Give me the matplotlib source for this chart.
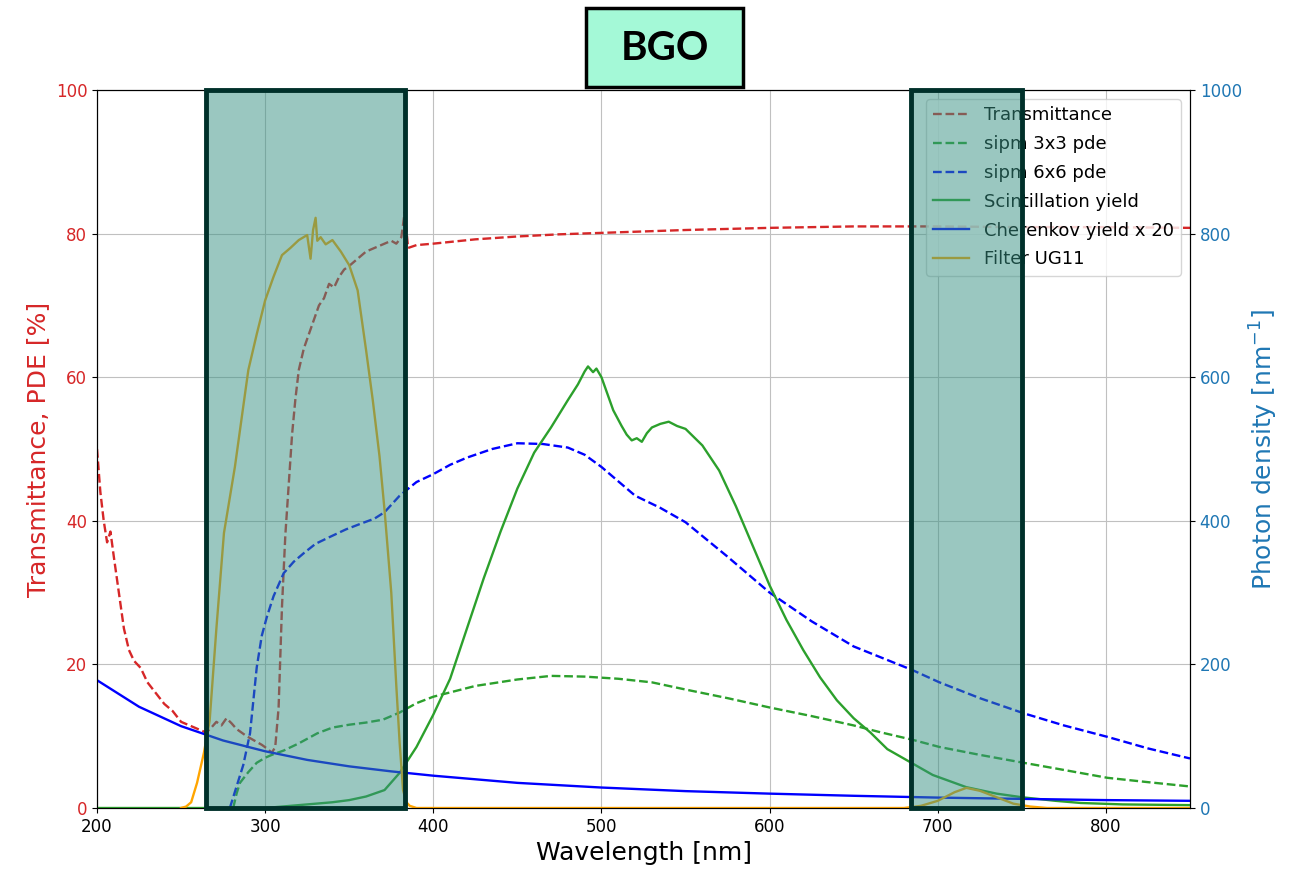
import matplotlib
matplotlib.use('Agg')

import matplotlib.pyplot as plt
from matplotlib.patches import Rectangle

# transmittance of BGO [%]
trans_wl = [200, 202, 204, 206, 208, 210, 213, 216, 219, 222, 226, 230, 235, 240, 245, 250,
            255, 260, 265, 268, 271, 274, 277, 280, 283, 286, 289, 292, 295, 298, 301, 304,
            306, 308, 310, 312, 314, 316, 318, 320, 323, 326, 329, 332, 335, 338, 341, 344,
            347, 350, 355, 360, 365, 370, 375, 378, 381, 383, 385, 390, 400, 425, 450, 475,
            500, 550, 600, 650, 700, 750, 800, 850]
trans = [50, 44, 40, 37, 38.5, 35, 30, 25, 22, 20.5, 19.5, 17.5, 16, 14.5, 13.5, 12,
         11.5, 11, 10.5, 11.2, 12, 11.5, 12.5, 11.8, 11, 10.5, 10, 9.6, 9.2, 8.8, 8.3, 7.7,
         8.5, 14, 28, 38, 45, 52, 57, 61, 64, 66, 68, 70, 71, 73, 72.5, 74,
         75, 75.5, 76.5, 77.5, 78, 78.5, 79, 78.6, 79.5, 83, 78, 78.4, 78.6, 79.2, 79.6, 79.9,
         80.1, 80.5, 80.8, 81, 81, 80.9, 80.9, 80.8]

# sipm pde [%]
pde3_wl = [281, 283, 285, 290, 295, 300, 305, 311, 320, 331, 340, 350, 360, 370, 380, 390,
           400, 425, 450, 470, 490, 510, 530, 550, 575, 600, 625, 650, 665, 685, 701, 725,
           751, 775, 801, 825, 850]
pde3 = [0, 2, 3.5, 5, 6.3, 7, 7.5, 8, 9, 10.4, 11.2, 11.6, 11.9, 12.3, 13.3, 14.6,
        15.5, 17, 17.9, 18.4, 18.3, 18, 17.5, 16.5, 15.3, 14, 12.8, 11.5, 10.6, 9.5, 8.5, 7.4,
        6.3, 5.3, 4.2, 3.6, 3.0]

pde6_wl = [279, 281, 283, 287, 291, 295, 298, 301, 305, 311, 317, 323, 330, 338, 348, 358,
           365, 371, 380, 390, 400, 410, 420, 435, 450, 465, 480, 490, 500, 510, 520, 535,
           550, 575, 600, 625, 650, 685, 701, 725, 751, 775, 801, 825, 850]
pde6 = [0, 1.5, 3, 6, 10.4, 19.6, 24, 26.6, 29.5, 32.7, 34.3, 35.5, 36.8, 37.7, 38.8, 39.7,
        40.3, 41.2, 43.5, 45.4, 46.5, 47.8, 48.8, 50, 50.8, 50.7, 50.2, 49.2, 47.5, 45.5, 43.5, 41.8,
        39.8, 35, 30, 26, 22.5, 19.2, 17.5, 15.3, 13.2, 11.5, 9.9, 8.3, 6.9]

# photon densities [nm^-1]
scint_wl = [200, 250, 300, 320, 340, 350, 360, 371, 380, 390, 400, 410, 420, 430, 440, 450,
            460, 470, 480, 486, 490, 492, 495, 497, 500, 507, 512, 515, 518, 521, 524, 527,
            530, 535, 540, 545, 550, 560, 570, 580, 590, 600, 610, 620, 630, 640, 650, 660,
            670, 685, 697, 717, 735, 750, 770, 785, 810, 850]
scint = [0, 0, 0, 4, 8, 11, 16, 25, 49, 85, 130, 180, 250, 320, 385, 445,
         495, 530, 568, 590, 608, 615, 607, 612, 600, 554, 532, 520, 512, 515, 510, 522,
         530, 535, 538, 532, 528, 505, 470, 420, 365, 310, 262, 220, 182, 150, 125, 105,
         82, 62, 46, 29, 20, 15, 10, 7, 5, 4]

cher_wl = [200, 225, 250, 275, 300, 325, 350, 375, 400, 450, 500, 550, 600, 650, 700, 750, 800, 850]
cher = [178, 141, 114, 94, 79, 67, 58, 51, 45, 35, 28.5, 23.5, 20, 17, 14.5, 12.7, 11, 10]

ug11_wl = [250, 253, 256, 259.5, 263.6, 267, 271, 275.5, 282, 287.5, 290, 295, 300, 305, 310,
           315, 320, 325, 327, 328.5, 330, 331, 333, 336, 340, 345, 350, 355, 360, 364, 368,
           371, 375, 378, 380, 382, 384, 386, 390, 400, 680, 690, 700, 710, 717, 725, 735,
           745, 755, 765, 850]
ug11 = [0, 2, 8, 35, 77, 122, 250, 383, 475, 568, 610, 660, 707, 740, 770,
        780, 791, 798, 765, 805, 822, 790, 795, 785, 791, 775, 756, 721, 638, 568, 490,
        415, 300, 170, 90, 25, 8, 3, 0, 0, 0, 3, 10, 22, 28, 24, 15,
        6, 2, 0, 0]

bands = [(265, 383), (684, 750)]

fig = plt.figure(figsize=(12.89, 8.81), dpi=100)
ax = fig.add_axes([97/1289, 73/881, 1093/1289, 718/881])
ax2 = ax.twinx()

lw = 1.7
l1, = ax.plot(trans_wl, trans, '--', color='tab:red', lw=lw, label='Transmittance')
l2, = ax.plot(pde3_wl, pde3, '--', color='tab:green', lw=lw, label='sipm 3x3 pde')
l3, = ax.plot(pde6_wl, pde6, '--', color='blue', lw=lw, label='sipm 6x6 pde')
l4, = ax2.plot(scint_wl, scint, '-', color='tab:green', lw=lw, label='Scintillation yield')
l5, = ax2.plot(cher_wl, cher, '-', color='blue', lw=lw, label='Cherenkov yield x 20')
l6, = ax2.plot(ug11_wl, ug11, '-', color='orange', lw=lw, label='Filter UG11')

ax.set_xlim(200, 850)
ax.set_ylim(0, 100)
ax2.set_ylim(0, 1000)
ax.grid(True, color='#c0c0c0')
ax.tick_params(labelsize=12)
ax.tick_params(axis='y', labelcolor='tab:red')
ax2.tick_params(axis='y', labelsize=12, labelcolor='tab:blue')
ax.set_xlabel('Wavelength [nm]', fontsize=18)
ax.set_ylabel('Transmittance, PDE [%]', fontsize=18, color='tab:red')
ax2.set_ylabel('Photon density [nm$^{-1}$]', fontsize=18, color='tab:blue')

ax2.legend(handles=[l1, l2, l3, l4, l5, l6], loc='upper right', fontsize=13,
           labelspacing=0.6)

for lo, hi in bands:
    ax2.axvspan(lo, hi, facecolor=(55/255, 145/255, 131/255, 0.5), edgecolor='#00302a',
                lw=3.5, zorder=10, clip_on=False)

fig.add_artist(Rectangle((586/1289, 1 - 87/881), 157/1289, 79/881, transform=fig.transFigure,
                         facecolor='#a4f9d7', edgecolor='black', lw=2.5))
fig.text(664.5/1289, 1 - 48/881, 'BGO', ha='center', va='center', fontsize=29,
         fontweight='bold', family='Lato')

plt.savefig('out.png', dpi=100)
